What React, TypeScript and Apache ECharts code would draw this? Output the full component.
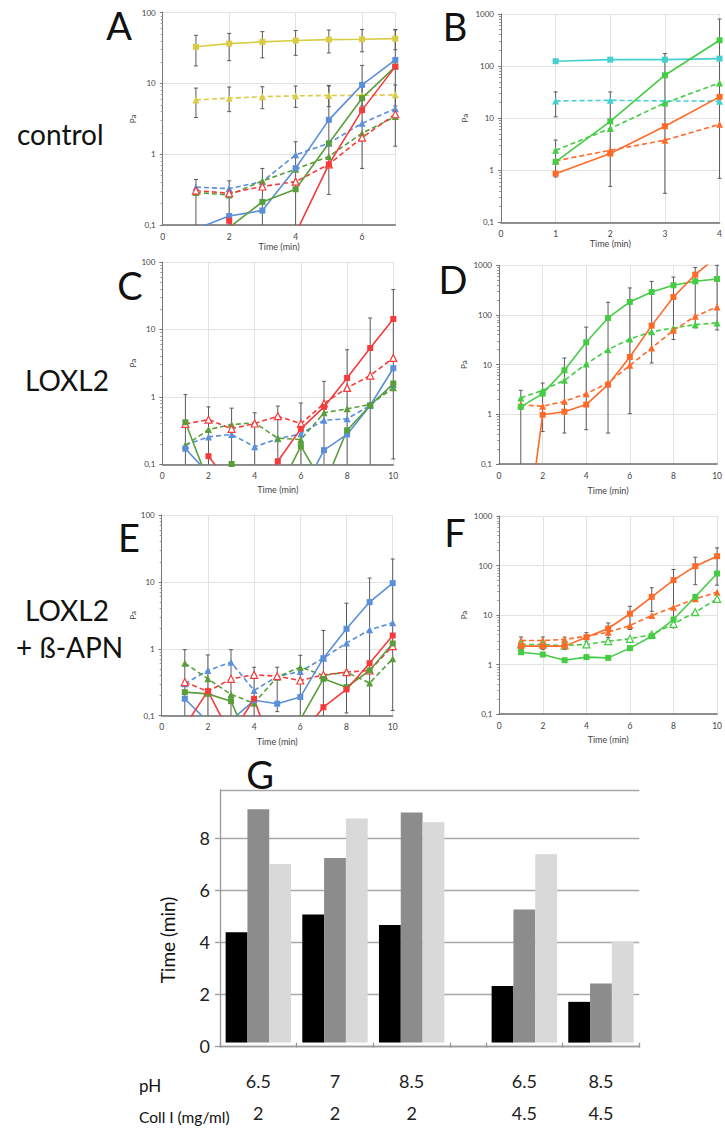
import React, { useEffect, useRef } from "react";
import * as echarts from "echarts";

// ---------- Panel A (control, 2 mg/ml) ----------
const aYellowSolid = [33, 36.6, 38.7, 40.4, 41.7, 42.2, 43];
const aYellowDash = [5.86, 6.2, 6.5, 6.7, 6.75, 6.8, 6.9];
const aBlueSolid = [0.088, 0.134, 0.16, 0.634, 3.06, 9.55, 21.5];
const aBlueDash = [0.342, 0.327, 0.41, 0.98, 1.43, 2.74, 4.4];
const aGreenSolid = [null, 0.092, 0.212, 0.32, 1.43, 6.2, 17.3];
const aGreenDash = [0.287, 0.266, 0.42, 0.614, 0.93, 1.98, 3.4];
const aRedSolid = [null, 0.115, 0.02, 0.076, 0.72, 4.2, 17.3];
const aRedDash = [0.307, 0.281, 0.35, 0.41, 0.72, 1.72, 3.67];
const aErr = [
  [1, 17.7, 48], [2, 21, 51], [3, 23, 54], [4, 25, 56], [5, 27, 57], [6, 28, 58], [7, 30, 58],
  [1, 3.3, 8.6], [2, 4.0, 8.9], [3, 4.4, 9.0], [4, 4.6, 9.2], [5, 4.7, 9.4], [6, 4.8, 9.4], [7, 4.8, 9.5],
  [1, 0.05, 0.44], [2, 0.05, 0.42], [3, 0.05, 0.63], [4, 0.05, 1.5], [5, 0.27, 9.2], [6, 0.63, 18], [7, 1.3, 57],
];

// ---------- Panel B ----------
const bCyanSolid = [124, 133, 133, 139];
const bCyanDash = [21.4, 22, 21.4, 21.2];
const bGreenSolid = [1.45, 8.7, 66.7, 313];
const bGreenDash = [2.42, 6.3, 19.6, 47.5];
const bOrangeSolid = [0.86, 2.09, 7.0, 25.6];
const bOrangeDash = [1.51, 2.42, 3.77, 7.6];
const bErr = [[1, 10.6, 31.9], [1, 0.74, 3.8], [2, 0.49, 31.9], [3, 0.36, 174], [4, 0.7, 800]];

// ---------- Panel C (LOXL2) ----------
const cRedSolid = [null, 0.132, 0.047, 0.02, 0.111, 0.336, 0.71, 1.91, 5.3, 14.3];
const cRedDash = [0.398, 0.461, 0.336, 0.403, 0.517, 0.4, 0.797, 1.36, 2.07, 3.78];
const cGreenSolid = [0.42, 0.054, 0.101, 0.05, 0.039, 0.186, 0.048, 0.32, 0.745, 1.58];
const cGreenDash = [0.19, 0.328, 0.389, 0.412, 0.244, 0.233, 0.58, 0.664, 0.77, 1.36];
const cBlueSolid = [0.17, 0.073, 0.05, 0.04, 0.04, 0.036, 0.162, 0.277, 0.745, 2.66];
const cBlueDash = [0.194, 0.255, 0.277, 0.182, 0.239, 0.283, 0.451, 0.472, 0.745, 1.52];
const cErr = [
  [1, 0.05, 1.08], [2, 0.05, 0.71], [3, 0.05, 0.68], [4, 0.05, 0.58], [5, 0.05, 0.73],
  [6, 0.05, 0.81], [7, 0.05, 1.7], [8, 0.05, 5.0], [9, 0.05, 14.8], [10, 0.12, 39],
];

// ---------- Panel D ----------
const dGreenSolid = [1.41, 2.61, 7.7, 28.2, 87, 183, 290, 396, 476, 531];
const dGreenDash = [2.13, 3.04, 4.84, 10.3, 20, 32.9, 46, 54.7, 63.9, 69];
const dOrangeSolid = [0.0005, 0.98, 1.13, 1.57, 3.96, 14.3, 61, 230, 649, 1500];
const dOrangeDash = [1.57, 1.45, 1.83, 2.61, 4.27, 9.7, 21.7, 49, 94, 145];
const dErr = [
  [1, 0.05, 3.04], [2, 0.45, 4.27], [3, 0.42, 13.6], [4, 0.49, 57], [5, 0.42, 180],
  [6, 1.03, 350], [7, 10.8, 475], [8, 32, 580], [9, 55, 900], [10, 50, 1000],
];

// ---------- Panel E (LOXL2 + ß-APN) ----------
const eBlueSolid = [0.179, 0.081, 0.085, 0.17, 0.151, 0.19, 0.725, 1.99, 4.99, 9.6];
const eBlueDash = [0.3, 0.474, 0.632, 0.238, 0.386, 0.458, 0.725, 1.22, 1.92, 2.45];
const eRedSolid = [0.07, 0.233, 0.05, 0.179, 0.019, 0.05, 0.134, 0.247, 0.61, 1.58];
const eRedDash = [0.318, 0.23, 0.356, 0.408, 0.39, 0.336, 0.408, 0.448, 0.474, 1.1];
const eGreenSolid = [0.225, 0.212, 0.165, 0.027, 0.03, 0.087, 0.356, 0.267, 0.474, 1.2];
const eGreenDash = [0.61, 0.356, 0.208, 0.154, 0.377, 0.532, 0.4, 0.448, 0.307, 0.71];
const eErr = [
  [1, 0.05, 0.97], [2, 0.05, 0.81], [3, 0.05, 0.97], [4, 0.05, 0.53], [5, 0.115, 0.53],
  [6, 0.05, 0.8], [7, 0.05, 1.88], [8, 0.11, 4.8], [9, 0.05, 11.4], [10, 0.12, 22],
];

// ---------- Panel F ----------
const fOrangeSolid = [2.35, 2.35, 2.35, 3.57, 5.33, 10.6, 23.3, 50.6, 97, 154];
const fOrangeDash = [3.05, 3.05, 3.2, 3.73, 4.5, 6.14, 9.77, 14.4, 21.2, 28.9];
const fGreenSolid = [1.77, 1.59, 1.22, 1.41, 1.36, 2.14, 3.73, 8.1, 23.3, 68.9];
const fGreenDash = [2.54, 2.54, 2.42, 2.54, 2.96, 3.3, 4.04, 6.63, 11.4, 21.2];
const fErr = [
  [1, 2.0, 3.6], [2, 2.0, 3.6], [3, 2.0, 3.57], [4, 2.96, 4.4], [5, 3.5, 6.9],
  [6, 5.1, 15], [7, 11.9, 35.5], [8, 5.5, 83], [9, 41, 147], [10, 40, 227],
];

// ---------- Panel G ----------
const phLabels = ["6.5", "7", "8.5", "6.5", "8.5"];
const collLabels = ["2", "2", "2", "4.5", "4.5"];
const gBlack = [4.31, 5.0, 4.59, 2.21, 1.59];
const gDark = [9.11, 7.21, 8.98, 5.2, 2.31];
const gLight = [6.97, 8.75, 8.6, 7.35, 3.95];

const FONT = "Lato";
const BLUE = "#5b8fd9";
const GREEN = "#5a9e3c";
const RED = "#f53b3b";
const YELLOW = "#d9cc45";
const CYAN = "#45d0d0";
const LGREEN = "#45cc45";
const ORANGE = "#ff6a28";

type SDef = { data: (number | null)[]; color: string; dashed: boolean; hollow?: boolean };

function lineSeries(s: SDef, idx: number) {
  return {
    type: "line",
    xAxisIndex: idx,
    yAxisIndex: idx,
    data: s.data.map((v, i) => [i + 1, v == null ? "-" : v]),
    symbol: s.dashed ? "triangle" : "rect",
    symbolSize: s.dashed ? 7 : 6,
    showAllSymbol: true,
    clip: true,
    z: 3,
    lineStyle: { color: s.color, width: 1.6, type: s.dashed ? [5, 3] : "solid" },
    itemStyle: {
      color: s.hollow ? "#ffffff" : s.color,
      borderColor: s.color,
      borderWidth: s.hollow ? 1.2 : 0,
    },
  };
}

function errSeries(list: number[][], idx: number) {
  return {
    type: "custom",
    xAxisIndex: idx,
    yAxisIndex: idx,
    z: 2,
    silent: true,
    data: list,
    renderItem: (params: any, api: any) => {
      const x = api.value(0);
      const lo = api.value(1);
      const hi = api.value(2);
      const pLo = api.coord([x, lo]);
      const pHi = api.coord([x, hi]);
      const cs = params.coordSys;
      const top = cs.y;
      const bot = cs.y + cs.height;
      if (pLo[0] > cs.x + cs.width + 0.5) return null;
      const y1 = Math.max(top, Math.min(bot, pHi[1]));
      const y2 = Math.max(top, Math.min(bot, pLo[1]));
      const st = { stroke: "#5a5a5a", lineWidth: 1 };
      const children: any[] = [
        { type: "line", shape: { x1: pLo[0], y1, x2: pLo[0], y2 }, style: st },
      ];
      if (pHi[1] >= top && pHi[1] <= bot)
        children.push({ type: "line", shape: { x1: pHi[0] - 2, y1: pHi[1], x2: pHi[0] + 2, y2: pHi[1] }, style: st });
      if (pLo[1] <= bot && pLo[1] >= top)
        children.push({ type: "line", shape: { x1: pLo[0] - 2, y1: pLo[1], x2: pLo[0] + 2, y2: pLo[1] }, style: st });
      return { type: "group", children };
    },
  };
}

type PDef = {
  left: number; top: number; width: number; height: number;
  xMax: number; xInt: number; yMax: number; showMaxX: boolean;
  nameGapX: number; nameGapY: number;
};

function panelAxes(p: PDef, idx: number) {
  const grid = { left: p.left, top: p.top, width: p.width, height: p.height };
  const xAxis = {
    gridIndex: idx,
    type: "value",
    min: 0,
    max: p.xMax,
    interval: p.xInt,
    axisLine: { show: true, onZero: false, lineStyle: { color: "#6e6e6e", width: 1.5 } },
    axisTick: { show: false },
    axisLabel: { fontSize: 8.5, color: "#444", margin: 7, showMaxLabel: p.showMaxX, fontFamily: FONT },
    splitLine: { show: true, lineStyle: { color: "#e2e2e2", width: 1 } },
    name: "Time (min)",
    nameLocation: "middle",
    nameGap: p.nameGapX,
    nameTextStyle: { fontSize: 9, color: "#444", fontFamily: FONT },
  };
  const yAxis = {
    gridIndex: idx,
    type: "log",
    logBase: 10,
    min: 0.1,
    max: p.yMax,
    axisLine: { show: true, lineStyle: { color: "#777", width: 1 } },
    axisTick: { show: true, length: 3, lineStyle: { color: "#777" } },
    minorTick: { show: true, splitNumber: 9, length: 2, lineStyle: { color: "#999" } },
    axisLabel: {
      fontSize: 8,
      color: "#444",
      margin: 7,
      fontFamily: FONT,
      formatter: (v: number) => (v < 0.5 ? "0,1" : String(Math.round(v))),
    },
    splitLine: { show: true, lineStyle: { color: "#e2e2e2", width: 1 } },
    name: "Pa",
    nameLocation: "middle",
    nameRotate: 90,
    nameGap: p.nameGapY,
    nameTextStyle: { fontSize: 8, color: "#444", fontFamily: FONT },
  };
  return { grid, xAxis, yAxis };
}

function txt(text: string, x: number, y: number, size: number, align = "center", rotation = 0) {
  return {
    type: "text",
    x,
    y,
    rotation,
    style: {
      text,
      fontSize: size,
      fontFamily: FONT,
      fill: "#111",
      textAlign: align,
      textVerticalAlign: "middle",
    },
  };
}

function buildOption() {
  const panels: { p: PDef; s: SDef[]; err: number[][] }[] = [
    {
      p: { left: 162.7, top: 12.7, width: 232.6, height: 212.3, xMax: 7, xInt: 2, yMax: 100, showMaxX: false, nameGapX: 15, nameGapY: 25.7 },
      s: [
        { data: aYellowSolid, color: YELLOW, dashed: false },
        { data: aYellowDash, color: YELLOW, dashed: true },
        { data: aBlueDash, color: BLUE, dashed: true },
        { data: aGreenDash, color: GREEN, dashed: true },
        { data: aRedDash, color: RED, dashed: true, hollow: true },
        { data: aBlueSolid, color: BLUE, dashed: false },
        { data: aGreenSolid, color: GREEN, dashed: false },
        { data: aRedSolid, color: RED, dashed: false },
      ],
      err: aErr,
    },
    {
      p: { left: 501, top: 14, width: 223, height: 208.3, xMax: 4, xInt: 1, yMax: 1000, showMaxX: true, nameGapX: 15, nameGapY: 32 },
      s: [
        { data: bCyanSolid, color: CYAN, dashed: false },
        { data: bCyanDash, color: CYAN, dashed: true },
        { data: bGreenDash, color: LGREEN, dashed: true },
        { data: bOrangeDash, color: ORANGE, dashed: true },
        { data: bGreenSolid, color: LGREEN, dashed: false },
        { data: bOrangeSolid, color: ORANGE, dashed: false },
      ],
      err: bErr,
    },
    {
      p: { left: 162.3, top: 262, width: 231, height: 202.3, xMax: 10, xInt: 2, yMax: 100, showMaxX: true, nameGapX: 21, nameGapY: 25.6 },
      s: [
        { data: cBlueDash, color: BLUE, dashed: true },
        { data: cGreenDash, color: GREEN, dashed: true },
        { data: cRedDash, color: RED, dashed: true, hollow: true },
        { data: cBlueSolid, color: BLUE, dashed: false },
        { data: cGreenSolid, color: GREEN, dashed: false },
        { data: cRedSolid, color: RED, dashed: false },
      ],
      err: cErr,
    },
    {
      p: { left: 499, top: 265.3, width: 220.3, height: 198.7, xMax: 10, xInt: 2, yMax: 1000, showMaxX: true, nameGapX: 21.5, nameGapY: 31 },
      s: [
        { data: dGreenDash, color: LGREEN, dashed: true },
        { data: dOrangeDash, color: ORANGE, dashed: true },
        { data: dGreenSolid, color: LGREEN, dashed: false },
        { data: dOrangeSolid, color: ORANGE, dashed: false },
      ],
      err: dErr,
    },
    {
      p: { left: 161.7, top: 515, width: 231, height: 200.7, xMax: 10, xInt: 2, yMax: 100, showMaxX: true, nameGapX: 21.5, nameGapY: 25 },
      s: [
        { data: eBlueDash, color: BLUE, dashed: true },
        { data: eGreenDash, color: GREEN, dashed: true },
        { data: eRedDash, color: RED, dashed: true, hollow: true },
        { data: eBlueSolid, color: BLUE, dashed: false },
        { data: eGreenSolid, color: GREEN, dashed: false },
        { data: eRedSolid, color: RED, dashed: false },
      ],
      err: eErr,
    },
    {
      p: { left: 499.3, top: 516, width: 224.4, height: 198, xMax: 10, xInt: 2, yMax: 1000, showMaxX: true, nameGapX: 21, nameGapY: 31.3 },
      s: [
        { data: fOrangeDash, color: ORANGE, dashed: true },
        { data: fGreenDash, color: LGREEN, dashed: true, hollow: true },
        { data: fOrangeSolid, color: ORANGE, dashed: false },
        { data: fGreenSolid, color: LGREEN, dashed: false },
      ],
      err: fErr,
    },
  ];

  const grids: any[] = [];
  const xAxes: any[] = [];
  const yAxes: any[] = [];
  const series: any[] = [];

  panels.forEach((pn, idx) => {
    const { grid, xAxis, yAxis } = panelAxes(pn.p, idx);
    grids.push(grid);
    xAxes.push(xAxis);
    yAxes.push(yAxis);
    series.push(errSeries(pn.err, idx));
    pn.s.forEach((s) => series.push(lineSeries(s, idx)));
  });

  // ---------- Panel G: bar chart ----------
  const gTop = 790;
  const gBottom = 1046;
  const gH = gBottom - gTop;
  const gMax = 9.86;
  grids.push({ left: 220, top: gTop, width: 419.3, height: gH });
  xAxes.push({
    gridIndex: 6, type: "value", min: 0, max: 1,
    axisLine: { show: true, lineStyle: { color: "#9a9a9a", width: 1.3 } },
    axisTick: { show: false }, axisLabel: { show: false }, splitLine: { show: false },
  });
  yAxes.push({
    gridIndex: 6, type: "value", min: 0, max: gMax, interval: 2,
    axisLine: { show: true, lineStyle: { color: "#9a9a9a", width: 1.3 } },
    axisTick: { show: true, length: 5, lineStyle: { color: "#9a9a9a", width: 1.3 } },
    axisLabel: {
      fontSize: 18, color: "#222", margin: 10, fontFamily: FONT, showMaxLabel: false,
      formatter: (v: number) => (Math.abs(v % 2) < 1e-6 ? String(v) : ""),
    },
    splitLine: { show: true, lineStyle: { color: "#a8a8a8", width: 1.3 } },
  });

  const groupDefs = [
    { left: 220, width: 230, from: 0, to: 3 },
    { left: 486, width: 153.3, from: 3, to: 5 },
  ];
  groupDefs.forEach((g, k) => {
    const gi = 7 + k;
    grids.push({ left: g.left, top: gTop, width: g.width, height: gH });
    const ph = phLabels.slice(g.from, g.to);
    const coll = collLabels.slice(g.from, g.to);
    xAxes.push({
      gridIndex: gi, type: "category", data: ph,
      axisLine: { show: false },
      axisTick: { show: true, length: 5, lineStyle: { color: "#9a9a9a", width: 1.3 } },
      axisLabel: {
        fontSize: 18, color: "#222", fontFamily: FONT, margin: 23, lineHeight: 31.7,
        formatter: (v: string, i: number) => `${ph[i]}\n${coll[i]}`,
      },
      splitLine: { show: false },
    });
    yAxes.push({ gridIndex: gi, type: "value", min: 0, max: gMax, show: false });
    const sets = [
      { d: gBlack, c: "#000000" },
      { d: gDark, c: "#8c8c8c" },
      { d: gLight, c: "#d9d9d9" },
    ];
    sets.forEach((st) => {
      series.push({
        type: "bar", xAxisIndex: gi, yAxisIndex: gi,
        data: st.d.slice(g.from, g.to),
        barWidth: 21.8, barGap: "0%",
        itemStyle: { color: st.c },
        z: 3,
      });
    });
  });

  const graphics = [
    txt("A", 119, 25, 38),
    txt("B", 455, 26, 38),
    txt("C", 130, 285, 38),
    txt("D", 453, 279, 38),
    txt("E", 129, 537, 38),
    txt("F", 455, 532, 38),
    txt("G", 260, 774, 38),
    txt("control", 17, 134, 28, "left"),
    txt("LOXL2", 25, 380, 28, "left"),
    txt("LOXL2", 25, 610, 28, "left"),
    txt("+ ß-APN", 16, 647, 28, "left"),
    txt("pH", 139, 1085, 17, "left"),
    txt("Coll I (mg/ml)", 139, 1116.7, 15.5, "left"),
    txt("Time (min)", 167, 940, 19, "center", Math.PI / 2),
  ];

  return {
    animation: false,
    backgroundColor: "#ffffff",
    textStyle: { fontFamily: FONT },
    grid: grids,
    xAxis: xAxes,
    yAxis: yAxes,
    series,
    graphic: graphics,
  };
}

export default function App() {
  const ref = useRef<HTMLDivElement>(null);
  useEffect(() => {
    if (!ref.current) return;
    const chart = echarts.init(ref.current, undefined, { renderer: "svg" });
    chart.setOption(buildOption() as any);
    return () => chart.dispose();
  }, []);
  return (
    <div style={{ position: "fixed", left: 0, top: 0, width: 725, height: 1129, background: "#fff", overflow: "hidden" }}>
      <div ref={ref} style={{ width: 725, height: 1129 }} />
    </div>
  );
}
